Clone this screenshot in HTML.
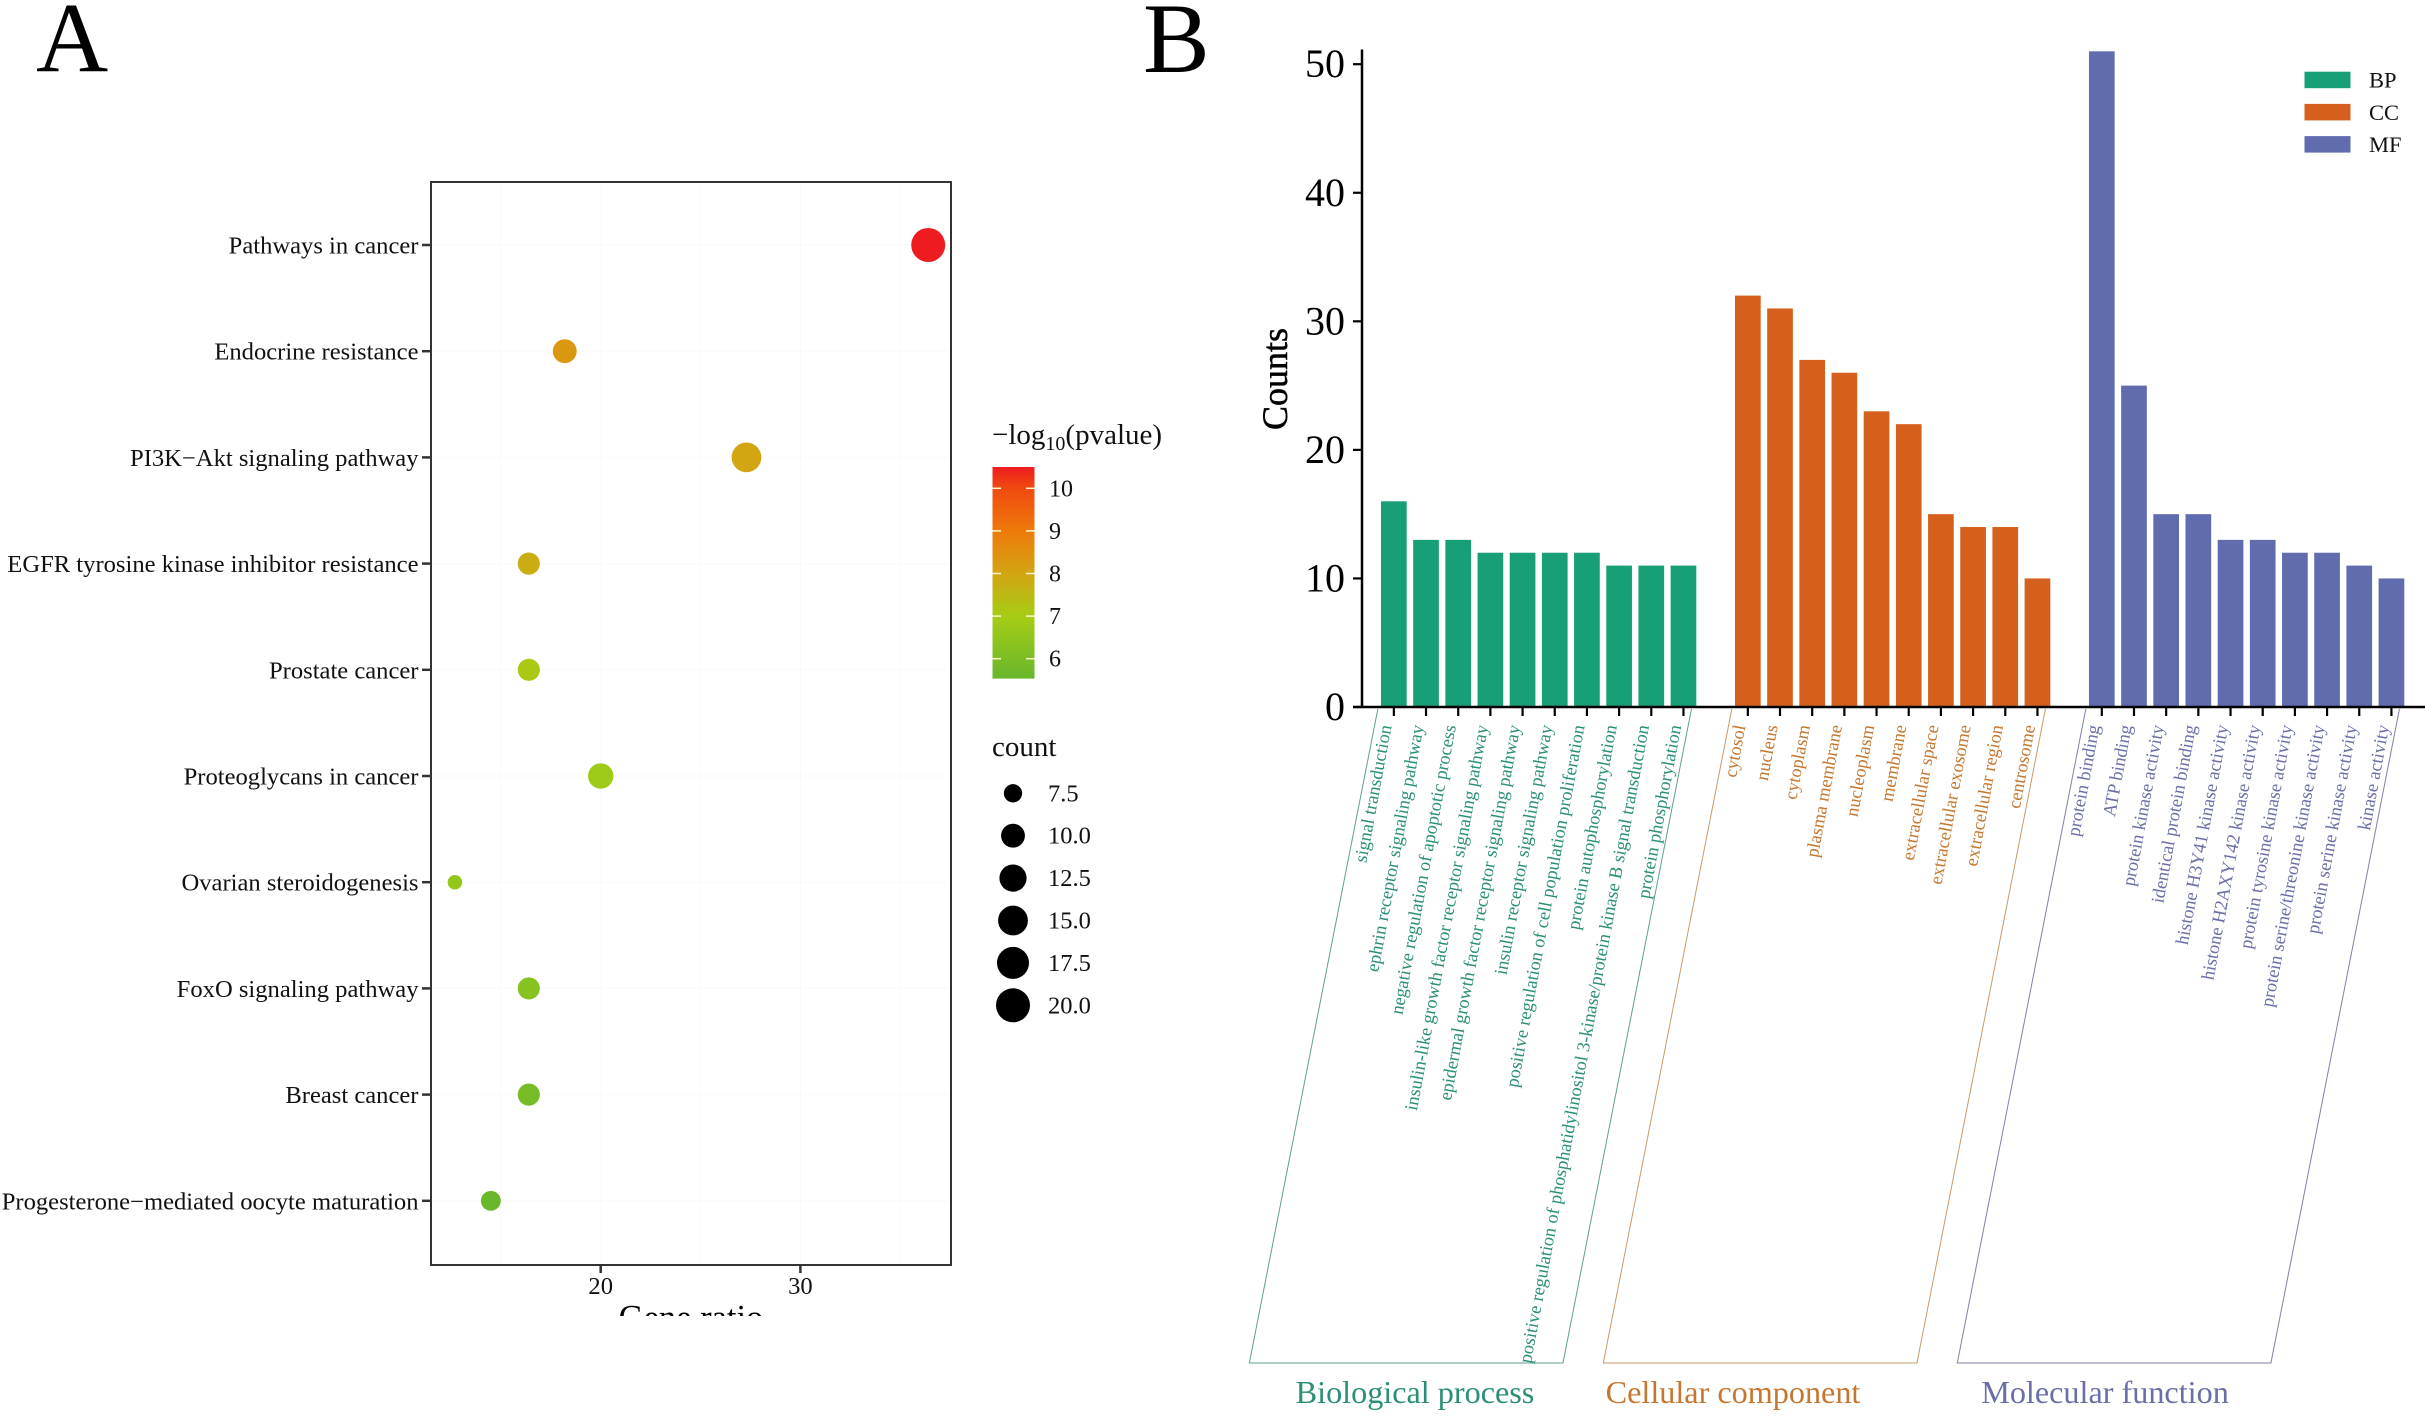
<!DOCTYPE html>
<html>
<head>
<meta charset="utf-8">
<title>Pathway enrichment and GO annotation figure</title>
<style>
html,body{margin:0;padding:0;background:#fff;width:2425px;height:1417px;overflow:hidden}
svg{display:block;font-family:"Liberation Serif",serif}
</style>
</head>
<body>
<svg id="fig" xmlns="http://www.w3.org/2000/svg" width="2425" height="1417" viewBox="0 0 2425 1417">
  <defs>
    <linearGradient id="cbar" x1="0" y1="1" x2="0" y2="0">
      <stop offset="0" stop-color="#68b62c"/>
      <stop offset="0.294" stop-color="#a6cd15"/>
      <stop offset="0.495" stop-color="#d2a512"/>
      <stop offset="0.697" stop-color="#ee7a0a"/>
      <stop offset="0.899" stop-color="#f04a10"/>
      <stop offset="1" stop-color="#ee1c20"/>
    </linearGradient>
  </defs>
  <rect width="2425" height="1417" fill="#fff"/>
  <text x="36" y="71" font-size="100">A</text>
  <text x="1143" y="72" font-size="100">B</text>
  <g id="panelA"></g>
  <g id="panelB"></g>
</svg>
<script>
// ---------- Panel A data ----------
const pathways = ["Pathways in cancer","Endocrine resistance","PI3K\u2212Akt signaling pathway","EGFR tyrosine kinase inhibitor resistance","Prostate cancer","Proteoglycans in cancer","Ovarian steroidogenesis","FoxO signaling pathway","Breast cancer","Progesterone\u2212mediated oocyte maturation"];
const geneRatio = [36.4,18.2,27.3,16.4,16.4,20.0,12.7,16.4,16.4,14.5];
const dotCounts = [20,10,15,9,9,11,7,9,9,8];
const negLogP = [10.5,8.3,8.0,7.8,7.1,6.8,6.6,6.3,5.9,5.6];
const xTicksA = [20,30];
const xMinorA = [15,25,35];
const colorTicks = [10,9,8,7,6];
const sizeLegend = [7.5,10,12.5,15,17.5,20];

// ---------- Panel B data ----------
const groupKeys = ["BP","CC","MF"];
const groupTitles = ["Biological process","Cellular component","Molecular function"];
const bpTerms = ["signal transduction","ephrin receptor signaling pathway","negative regulation of apoptotic process","insulin-like growth factor receptor signaling pathway","epidermal growth factor receptor signaling pathway","insulin receptor signaling pathway","positive regulation of cell population proliferation","protein autophosphorylation","positive regulation of phosphatidylinositol 3-kinase/protein kinase B signal transduction","protein phosphorylation"];
const bpCounts = [16,13,13,12,12,12,12,11,11,11];
const ccTerms = ["cytosol","nucleus","cytoplasm","plasma membrane","nucleoplasm","membrane","extracellular space","extracellular exosome","extracellular region","centrosome"];
const ccCounts = [32,31,27,26,23,22,15,14,14,10];
const mfTerms = ["protein binding","ATP binding","protein kinase activity","identical protein binding","histone H3Y41 kinase activity","histone H2AXY142 kinase activity","protein tyrosine kinase activity","protein serine/threonine kinase activity","protein serine kinase activity","kinase activity"];
const mfCounts = [51,25,15,15,13,13,12,12,11,10];
const yTicksB = [0,10,20,30,40,50];

// ---------- helpers ----------
const NS = "http://www.w3.org/2000/svg";
function mk(parent, tag, attrs, txt){
  const el = document.createElementNS(NS, tag);
  for (const k in attrs) el.setAttribute(k, attrs[k]);
  if (txt !== undefined) el.textContent = txt;
  parent.appendChild(el);
  return el;
}
function slug(s){ return s.toLowerCase().replace(/[^a-z0-9]+/g,'-').replace(/^-|-$/g,''); }

// ---------- Panel A ----------
const A = document.getElementById('panelA');
const frame = {l:431, r:951, t:182, b:1265};
const xA = v => 600.7 + (v-20)*19.97;
const yA = i => 245 + i*106.2;
const sizeA = c => 14.5 + 19.5*Math.sqrt((c-7)/13);
const yColor = v => 573.5 - (v-8)*42.6;
const colorStops = [[5.54,[104,182,44]],[7,[166,205,21]],[8,[210,165,18]],[9,[238,122,10]],[10,[240,74,16]],[10.5,[238,28,32]]];
function colorA(v){
  for (let i=0;i<colorStops.length-1;i++){
    const a=colorStops[i], b=colorStops[i+1];
    if (v<=b[0]){
      const t=Math.max(0,(v-a[0])/(b[0]-a[0]));
      return 'rgb('+a[1].map((c,j)=>Math.round(c+(b[1][j]-c)*t)).join(',')+')';
    }
  }
  return 'rgb(238,28,32)';
}
xTicksA.concat(xMinorA).forEach(v=>{
  const l = mk(A,'line',{x1:xA(v),x2:xA(v),y1:frame.t,y2:frame.b,stroke:'#fafafa','stroke-width':1});
  
  
});
pathways.forEach((p,i)=>{
  const l = mk(A,'line',{x1:frame.l,x2:frame.r,y1:yA(i),y2:yA(i),stroke:'#fafafa','stroke-width':1});
  
  
  const t = mk(A,'line',{x1:frame.l-9,x2:frame.l,y1:yA(i),y2:yA(i),stroke:'#333','stroke-width':2.5});
  
  
  const lab = mk(A,'text',{x:frame.l-12.5,y:yA(i)+8.5,'text-anchor':'end','font-size':24.6,fill:'#111'},p);
  
  
  const d = mk(A,'circle',{cx:xA(geneRatio[i]),cy:yA(i),r:sizeA(dotCounts[i])/2,fill:colorA(negLogP[i])});
  
  
});
const fr = mk(A,'rect',{x:frame.l,y:frame.t,width:frame.r-frame.l,height:frame.b-frame.t,fill:'none',stroke:'#333','stroke-width':2});


xTicksA.forEach(v=>{
  const t = mk(A,'line',{x1:xA(v),x2:xA(v),y1:frame.b,y2:frame.b+8,stroke:'#333','stroke-width':2.5});
  
  
  const lab = mk(A,'text',{x:xA(v),y:1294,'text-anchor':'middle','font-size':24.6,fill:'#111'},String(v));
  
  
});
const xt = mk(A,'text',{x:691,y:1329,'text-anchor':'middle','font-size':34.5,fill:'#000'},'Gene ratio');


const cover = mk(A,'rect',{x:560,y:1316,width:260,height:30,fill:'#fff'});



// colour legend
const lt = mk(A,'text',{x:992,y:444,'font-size':29,fill:'#111'});


mk(lt,'tspan',{},'\u2212log');
mk(lt,'tspan',{'font-size':20,dy:6},'10');
mk(lt,'tspan',{dy:-6},'(pvalue)');
const bar = mk(A,'rect',{x:992.5,y:467,width:42,height:211.6,fill:'url(#cbar)'});


colorTicks.forEach(v=>{
  const y = yColor(v);
  [[992.5,1001],[1026,1034.5]].forEach(s=>{
    const t = mk(A,'line',{x1:s[0],x2:s[1],y1:y,y2:y,stroke:'#fff6c8','stroke-width':1.5});
    
    
  });
  const lab = mk(A,'text',{x:1049,y:y+8,'font-size':24,fill:'#111'},String(v));
  
  
});
// size legend
const ct = mk(A,'text',{x:992,y:756,'font-size':29,fill:'#111'},'count');


sizeLegend.forEach((v,i)=>{
  const y = 793.3 + i*42.4;
  const c = mk(A,'circle',{cx:1013,cy:y,r:sizeA(v)/2,fill:'#000'});
  
  
  const lab = mk(A,'text',{x:1048,y:y+8,'font-size':24.5,fill:'#111'},v.toFixed(1));
  
  
});

// ---------- Panel B ----------
const B = document.getElementById('panelB');
const y0B = 707, unitB = 12.856;
const yB = v => y0B - v*unitB;
const xB = i => 1393.85 + i*32.18;
const barW = 25.7;
const barColors = {BP:'#189f78',CC:'#d5601d',MF:'#616cae'};
const textColors = {BP:'#2a8f78',CC:'#c6772f',MF:'#6a6fa8'};
const lineColors = {BP:'#5f9f92',CC:'#c99a6a',MF:'#7f82a8'};
const groupTerms = [bpTerms,ccTerms,mfTerms];
const groupCounts = [bpCounts,ccCounts,mfCounts];
groupKeys.forEach((g,gi)=>{
  const offset = gi*11;
  groupCounts[gi].forEach((c,i)=>{
    const cx = xB(offset+i);
    const r = mk(B,'rect',{x:cx-barW/2,y:yB(c),width:barW,height:y0B-yB(c),fill:barColors[g]});
    
    
    const t = mk(B,'line',{x1:cx,x2:cx,y1:y0B,y2:y0B+9,stroke:'#000','stroke-width':2.2});
    
    
    const lab = mk(B,'text',{transform:'translate('+(cx-8)+',725) rotate(-79.5)','text-anchor':'end',dy:'0.32em','font-size':18.4,fill:textColors[g]},groupTerms[gi][i]);
    
    
  });
  // bracket parallelogram spanning the group's bars
  const tl = xB(offset)-16, tr = xB(offset+9)+8;
  const shift = 128.5;
  const br = mk(B,'polyline',{points:[tl,709,tl-shift,1363,tr-shift,1363,tr,709].join(' '),fill:'none',stroke:lineColors[g],'stroke-width':1});
  
  
  const tx = [1415,1733,2105][gi];
  const gt = mk(B,'text',{x:tx,y:1403,'text-anchor':'middle','font-size':32.2,fill:textColors[g]},groupTitles[gi]);
  
  
});
const yAxis = mk(B,'line',{x1:1362,x2:1362,y1:49.5,y2:y0B+1,stroke:'#000','stroke-width':2.5});


const xAxis = mk(B,'line',{x1:1353,x2:2425,y1:y0B,y2:y0B,stroke:'#000','stroke-width':2.5});


yTicksB.forEach(v=>{
  const t = mk(B,'line',{x1:1353,x2:1362,y1:yB(v),y2:yB(v),stroke:'#000','stroke-width':2.2});
  
  
  const lab = mk(B,'text',{x:1345,y:yB(v)+13,'text-anchor':'end','font-size':40,fill:'#000'},String(v));
  
  
});
const yt = mk(B,'text',{transform:'translate(1287,379) rotate(-90)','text-anchor':'middle','font-size':36,fill:'#000',stroke:'#000','stroke-width':0.5},'Counts');


groupKeys.forEach((g,i)=>{
  const y = 71.7 + i*32.2;
  const s = mk(B,'rect',{x:2304.5,y:y,width:46,height:16.5,fill:barColors[g]});
  
  
  const lab = mk(B,'text',{x:2369,y:y+16,'font-size':22.5,fill:'#111'},g);
  
  
});
</script>
</body>
</html>
